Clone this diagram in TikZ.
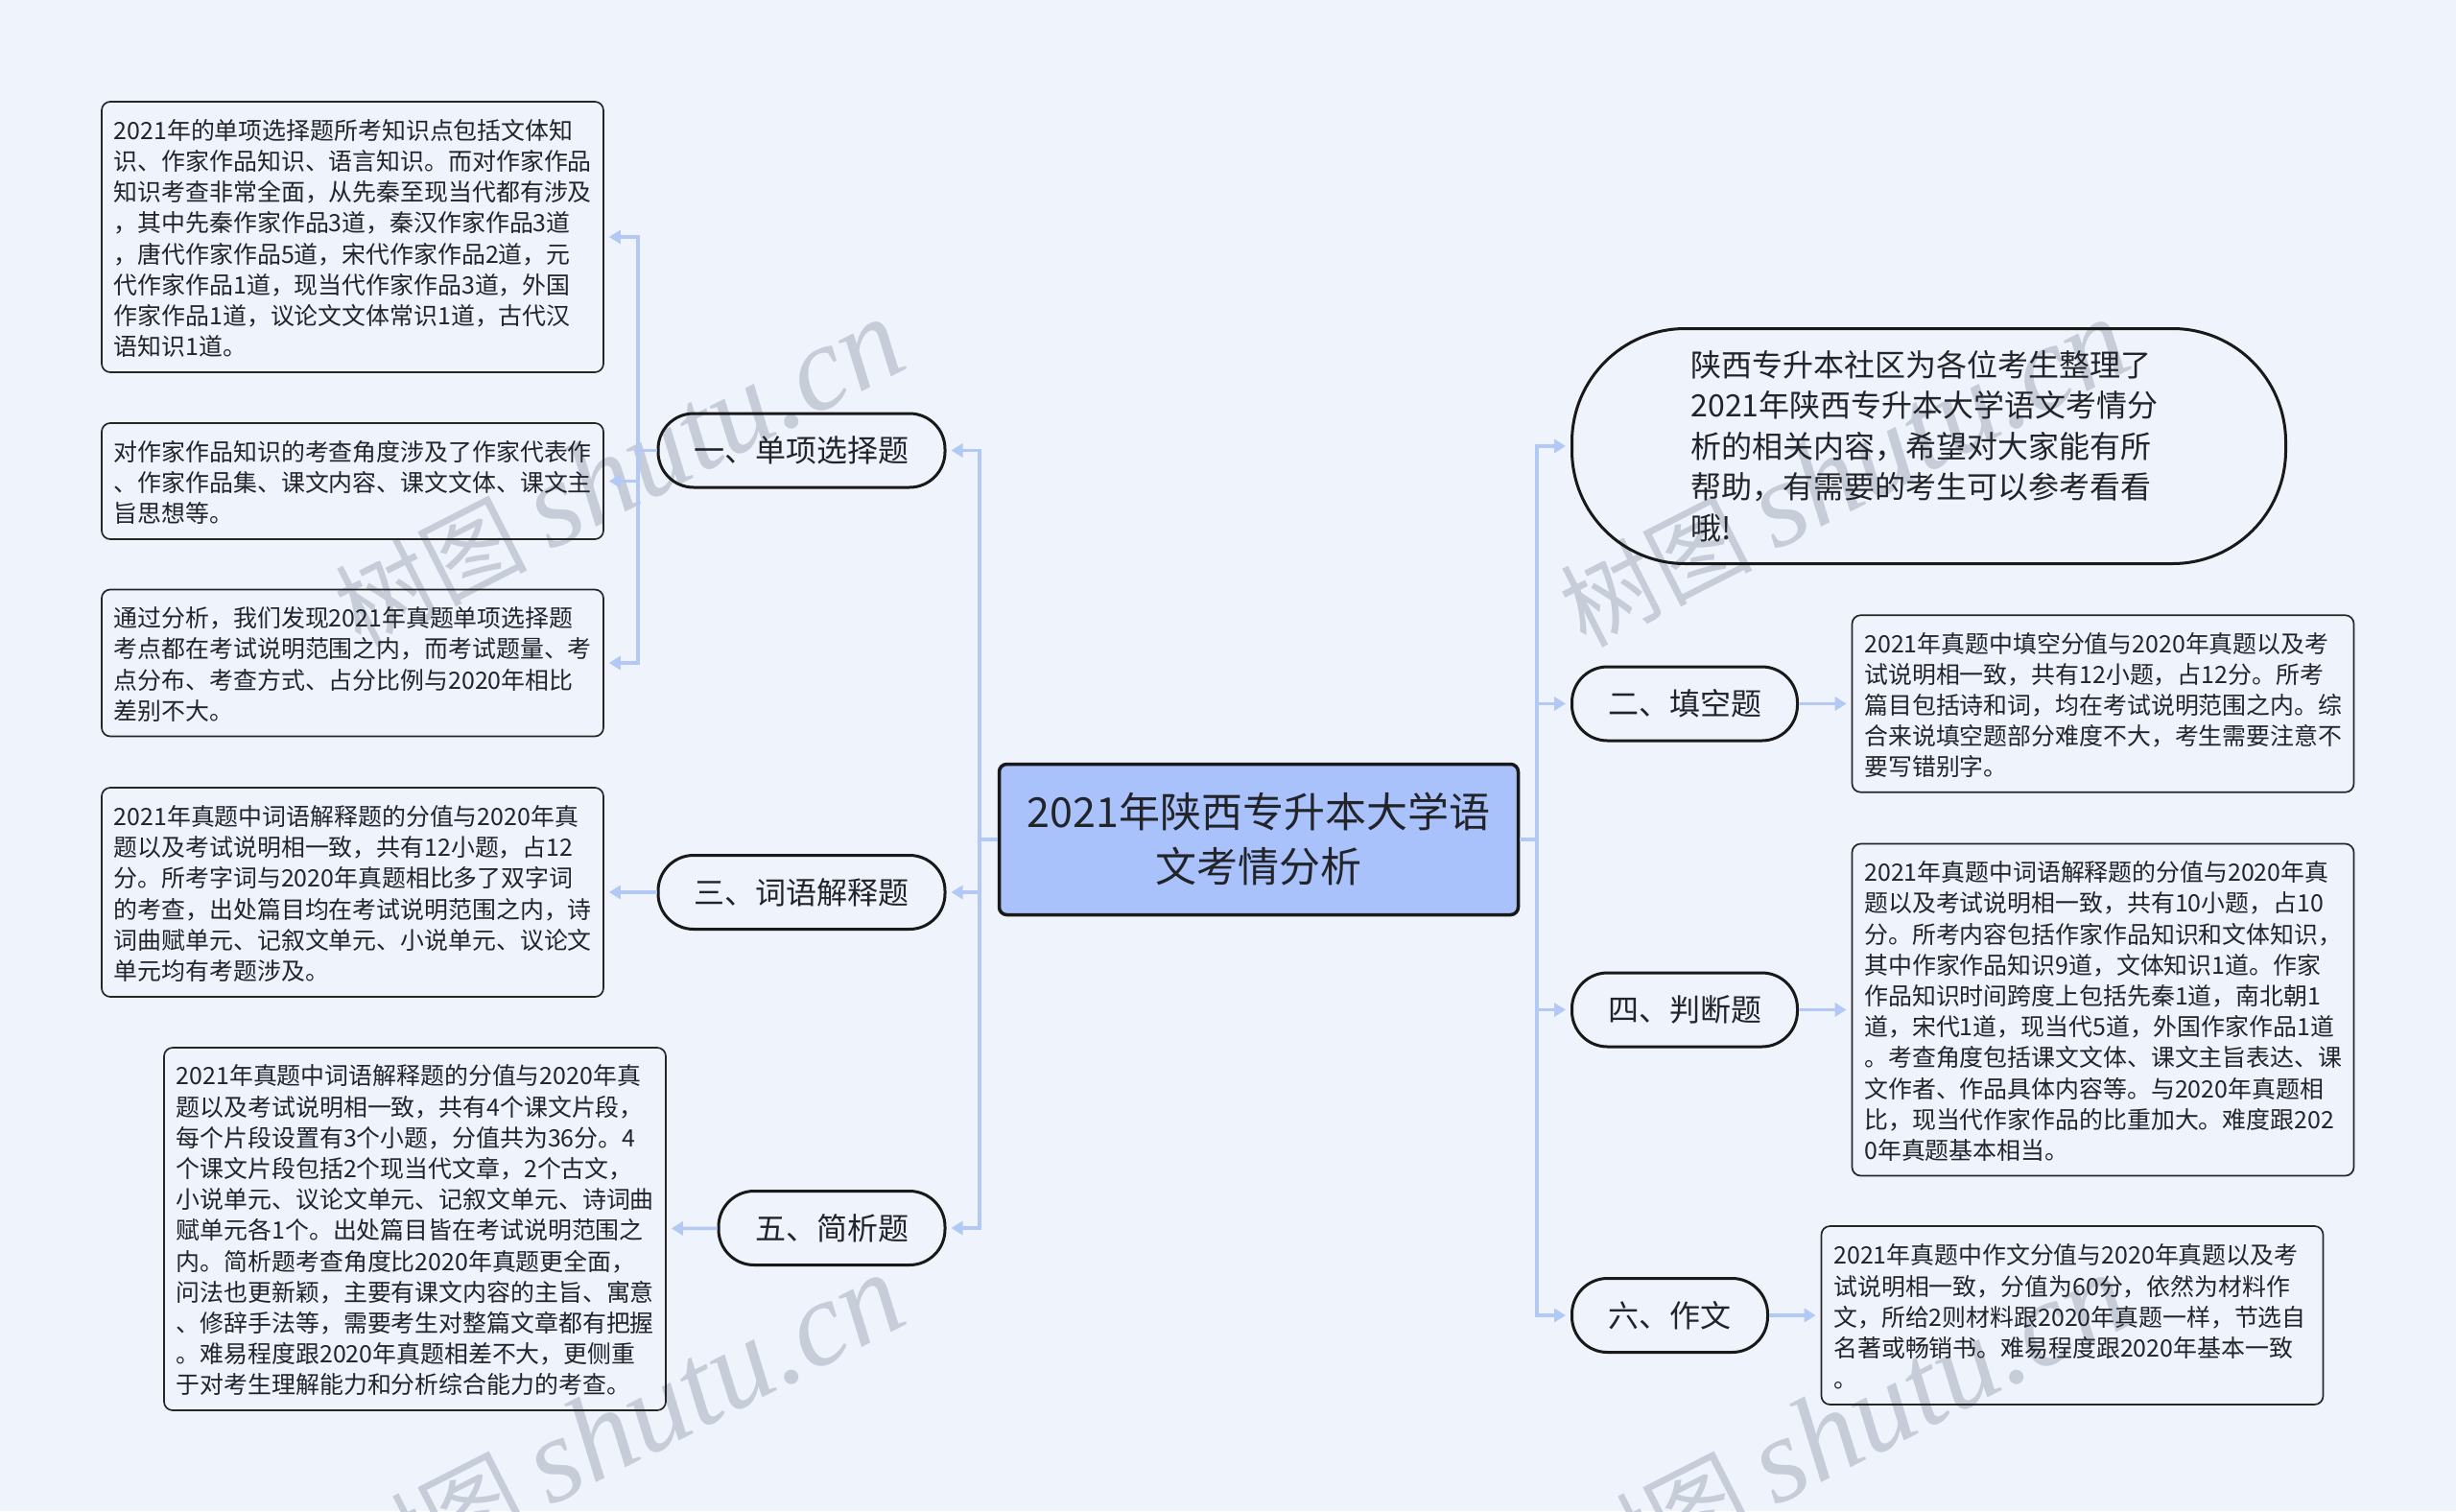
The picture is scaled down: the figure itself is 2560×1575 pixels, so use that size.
\documentclass[tikz,border=0pt]{standalone}
\usepackage{xcolor}
\usepackage{fontspec}
\usepackage{tikz}
\usetikzlibrary{arrows.meta}
\setmainfont{Noto Sans CJK SC}
\newfontfamily\markcjk[AutoFakeSlant=0.35]{Noto Sans CJK SC}
\newfontfamily\marklatin{Liberation Serif Italic}
\definecolor{pagebg}{RGB}{238,243,252}
\definecolor{rootfill}{RGB}{169,194,251}
\definecolor{linkblue}{RGB}{178,201,245}
\definecolor{markgray}{RGB}{198,204,216}
\definecolor{inkdark}{RGB}{34,36,42}
\tikzset{
  rootbox/.style={draw=black!90, fill=rootfill, rounded corners=8pt, line width=3.5pt, align=center, text=inkdark,
    minimum width=541pt, minimum height=157pt, inner sep=0pt, font=\fontsize{43}{57}\selectfont},
  topicbox/.style={draw=black!90, rounded corners=37pt, line width=3pt, text=inkdark,
    minimum height=77pt, inner sep=0pt, font=\fontsize{32}{42.6}\selectfont},
  introbox/.style={draw=black!90, rounded corners=118pt, line width=3pt, text=inkdark, align=left,
    text width=496pt, inner xsep=124pt, inner ysep=0pt, minimum height=245pt, font=\fontsize{32}{42.6}\selectfont},
  leafbox/.style={draw=black!85, rounded corners=9pt, line width=1.7pt, text=inkdark, align=left,
    text width=499.7pt, inner xsep=11.65pt, inner ysep=0pt, font=\fontsize{24.9}{32.2}\selectfont,
    execute at begin node={\leftskip=1.2pt\rule{0pt}{24pt}}},
  link/.style={draw=linkblue, line width=3.5pt},
  linkarrow/.style={link, -{Triangle[length=12pt,width=14pt]}, shorten >=5pt},
  markstamp/.style={text=markgray, rotate=27, inner sep=0pt}
}

\begin{document}
\begin{tikzpicture}[x=1pt,y=-1pt]
\useasboundingbox (0,0) rectangle (2560,1575);
\clip (0,0) rectangle (2560,1575);
\fill[pagebg] (0,0) rectangle (2560,1575);

% watermark
\foreach \n/\mx/\my in {a/645/493, b/1922/493, c/645/1489, d/1922/1489}{
  \node[markstamp] (mark\n) at (\mx,\my) {\fontsize{100}{100}\selectfont\markcjk 树图 \fontsize{126}{126}\selectfont\marklatin shutu.cn};
}

\node[rootbox] (root) at (1312,875) {2021年陕西专升本大学语\\文考情分析};

% left side
\node[topicbox, minimum width=299pt] (topicone) at (835.5,469.5) {一、单项选择题};
\node[topicbox, minimum width=299pt] (topicthree) at (835.5,930) {三、词语解释题};
\node[topicbox, minimum width=236pt] (topicfive) at (867,1280) {五、简析题};

\node[leafbox, minimum height=282pt] (leafonea) at (367.5,247) {2021年的单项选择题所考知识点包括文体知\\
识、作家作品知识、语言知识。而对作家作品\\
知识考查非常全面，从先秦至现当代都有涉及\\
，其中先秦作家作品3道，秦汉作家作品3道\\
，唐代作家作品5道，宋代作家作品2道，元\\
代作家作品1道，现当代作家作品3道，外国\\
作家作品1道，议论文文体常识1道，古代汉\\
语知识1道。};
\node[leafbox, minimum height=121pt] (leafoneb) at (367.5,501.5) {对作家作品知识的考查角度涉及了作家代表作\\
、作家作品集、课文内容、课文文体、课文主\\
旨思想等。};
\node[leafbox, minimum height=153pt] (leafonec) at (367.5,691) {通过分析，我们发现2021年真题单项选择题\\
考点都在考试说明范围之内，而考试题量、考\\
点分布、考查方式、占分比例与2020年相比\\
差别不大。};
\node[leafbox, minimum height=218pt] (leafthree) at (367.5,930) {2021年真题中词语解释题的分值与2020年真\\
题以及考试说明相一致，共有12小题，占12\\
分。所考字词与2020年真题相比多了双字词\\
的考查，出处篇目均在考试说明范围之内，诗\\
词曲赋单元、记叙文单元、小说单元、议论文\\
单元均有考题涉及。};
\node[leafbox, minimum height=378pt] (leaffive) at (432.5,1281) {2021年真题中词语解释题的分值与2020年真\\
题以及考试说明相一致，共有4个课文片段，\\
每个片段设置有3个小题，分值共为36分。4\\
个课文片段包括2个现当代文章，2个古文，\\
小说单元、议论文单元、记叙文单元、诗词曲\\
赋单元各1个。出处篇目皆在考试说明范围之\\
内。简析题考查角度比2020年真题更全面，\\
问法也更新颖，主要有课文内容的主旨、寓意\\
、修辞手法等，需要考生对整篇文章都有把握\\
。难易程度跟2020年真题相差不大，更侧重\\
于对考生理解能力和分析综合能力的考查。};

% right side
\node[introbox] (intro) at (2010.5,465) {陕西专升本社区为各位考生整理了\\
2021年陕西专升本大学语文考情分\\
析的相关内容，希望对大家能有所\\
帮助，有需要的考生可以参考看看\\
哦!};
\node[topicbox, minimum width=235pt] (topictwo) at (1756,733.5) {二、填空题};
\node[topicbox, minimum width=235pt] (topicfour) at (1756,1052.5) {四、判断题};
\node[topicbox, minimum width=204pt] (topicsix) at (1740.5,1371) {六、作文};

\node[leafbox, minimum height=184.5pt] (leaftwo) at (2192,733.5) {2021年真题中填空分值与2020年真题以及考\\
试说明相一致，共有12小题，占12分。所考\\
篇目包括诗和词，均在考试说明范围之内。综\\
合来说填空题部分难度不大，考生需要注意不\\
要写错别字。};
\node[leafbox, minimum height=346pt] (leaffour) at (2192,1052.5) {2021年真题中词语解释题的分值与2020年真\\
题以及考试说明相一致，共有10小题，占10\\
分。所考内容包括作家作品知识和文体知识，\\
其中作家作品知识9道，文体知识1道。作家\\
作品知识时间跨度上包括先秦1道，南北朝1\\
道，宋代1道，现当代5道，外国作家作品1道\\
。考查角度包括课文文体、课文主旨表达、课\\
文作者、作品具体内容等。与2020年真题相\\
比，现当代作家作品的比重加大。难度跟202\\
0年真题基本相当。};
\node[leafbox, minimum height=186pt] (leafsix) at (2160,1371) {2021年真题中作文分值与2020年真题以及考\\
试说明相一致，分值为60分，依然为材料作\\
文，所给2则材料跟2020年真题一样，节选自\\
名著或畅销书。难易程度跟2020年基本一致\\
。};

% connectors
\coordinate (trunkleft) at (1021,875);
\coordinate (trunkright) at (1602,875);
\coordinate (forkone) at (665,469.5);

\foreach \t in {topicone,topicthree,topicfive}{
  \draw[linkarrow] (root.west) -- (trunkleft) |- (\t.east);
}
\foreach \t in {intro,topictwo,topicfour,topicsix}{
  \draw[linkarrow] (root.east) -- (trunkright) |- (\t.west);
}
\foreach \l in {leafonea,leafoneb,leafonec}{
  \draw[linkarrow] (topicone.west) -- (forkone) |- (\l.east);
}
\draw[linkarrow] (topicthree) -- (leafthree);
\draw[linkarrow] (topicfive) -- (leaffive);
\draw[linkarrow] (topictwo) -- (leaftwo);
\draw[linkarrow] (topicfour) -- (leaffour);
\draw[linkarrow] (topicsix) -- (leafsix);
\end{tikzpicture}
\end{document}
